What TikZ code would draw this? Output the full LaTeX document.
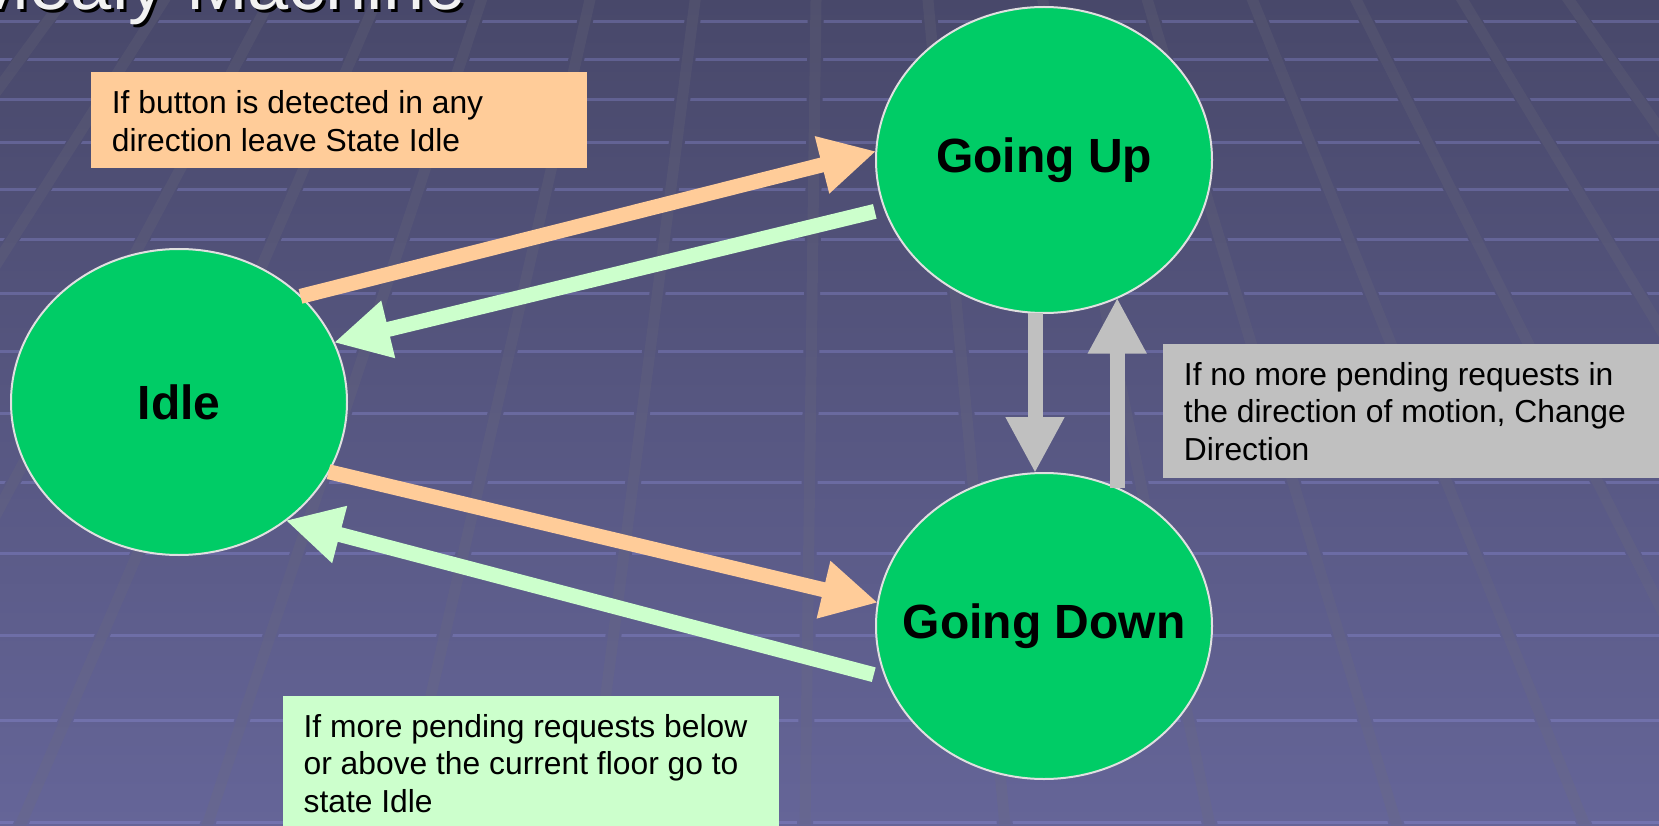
\documentclass[tikz,border=0pt]{standalone}
\usepackage{fontspec}
\setmainfont{Liberation Sans}
\usetikzlibrary{arrows.meta,shapes.geometric,calc}
\definecolor{bgtop}{RGB}{72,72,106}
\definecolor{bgbot}{RGB}{101,101,152}
\definecolor{stripe}{RGB}{150,150,230}
\definecolor{band}{RGB}{110,110,122}
\definecolor{stategreen}{RGB}{0,204,102}
\definecolor{notepeach}{RGB}{255,204,153}
\definecolor{notemint}{RGB}{204,255,204}
\definecolor{notegray}{RGB}{192,192,192}
\begin{document}
\begin{tikzpicture}[x=1pt,y=-1pt,
  state/.style={ellipse, draw=white!88!black, line width=2pt, fill=stategreen,
    minimum width=336pt, minimum height=306pt, inner sep=0pt, outer sep=0pt,
    font=\fontsize{48}{56}\selectfont\bfseries, text=black},
  notebox/.style={anchor=north west, inner sep=0pt, outer sep=0pt},
  notetext/.style={anchor=north west, inner sep=0pt, align=left,
    font=\fontsize{31.8}{37.5}\selectfont, text=black},
  flow/.style={line width=15pt, -{Triangle[length=56pt,width=55pt]}},
  titlefont/.style={anchor=base west, inner sep=0pt, font=\fontsize{74}{80}\selectfont},
]
\clip (0,0) rectangle (1659,826);
% background
\shade[top color=bgtop, bottom color=bgbot] (0,0) rectangle (1659,826);
\foreach \h in {22,60,100,143,190,240,293,351,413,482,553,635,720,822}
  \fill[stripe, opacity=0.3] (0,\h-1.5) rectangle (1659,\h+1.5);
\begin{scope}
\clip foreach \b in {-900,-720,-540,-360,-170,20,207,401,589,805,1005,1210,1397,1585,1770,1960,2150,2340,2530}
  {({830+(\b-830)*0.55437-8},-10) -- ({830+(\b-830)*0.55437+8},-10) -- ({830+(\b-830)*1.00533+8},836) -- ({830+(\b-830)*1.00533-8},836) -- cycle};
\shade[top color=bgtop, bottom color=bgbot] (0,0) rectangle (1659,826);
\end{scope}
\foreach \b in {-900,-720,-540,-360,-170,20,207,401,589,805,1005,1210,1397,1585,1770,1960,2150,2340,2530}
  \draw[band, opacity=0.22, line width=11pt] ({830+(\b-830)*0.55437},-10) -- ({830+(\b-830)*1.00533},836);

% title
\node[titlefont, text=black] (titleshadow) at (-29,13) {Mealy Machine};
\node[titlefont, text=white!95!black] (title) at (-32,10) {Mealy Machine};

% states
\node[state] (idle) at (179,402) {\makebox[0pt]{Idle}};
\node[state] (goup) at (1044,160) {\makebox[0pt]{\raisebox{-5pt}{Going Up}}};
\node[state] (godown) at (1044,626) {\makebox[0pt]{\raisebox{-4pt}{Going Down}}};

% transitions
\draw[flow, notepeach] (idle.41.6) -- (goup.177);
\coordinate (gutail) at ([xshift=-11pt]goup.198);
\draw[flow, notemint] (gutail) -- (idle.21);
\draw[flow, notepeach] (idle.-25) -- (godown.172);
\coordinate (gdtail) at ([xshift=-11pt]godown.197.4);
\draw[flow, notemint] (gdtail) -- (idle.-48);
\draw[flow, notegray] ([xshift=-9pt]goup.south) -- ([xshift=-9pt]godown.north);
\draw[flow, notegray] (godown.62.7) -- (godown.62.7 |- goup.-62.7);

% notes
\node[notebox, fill=notepeach, minimum width=496.3pt, minimum height=95.4pt] (n1) at (91,72.3) {};
\node[notetext] (n1t) at ([xshift=20.7pt,yshift=-18pt]n1.north west) {If button is detected in any\\direction leave State Idle};
\node[notebox, fill=notegray, minimum width=520pt, minimum height=134.3pt] (n2) at (1163,344) {};
\node[notetext] (n2t) at ([xshift=20.7pt,yshift=-18pt]n2.north west) {If no more pending requests in\\the direction of motion, Change\\Direction};
\node[notebox, fill=notemint, minimum width=496.3pt, minimum height=140pt] (n3) at (282.7,696) {};
\node[notetext] (n3t) at ([xshift=20.7pt,yshift=-18pt]n3.north west) {If more pending requests below\\or above the current floor go to\\state Idle};
\end{tikzpicture}
\end{document}
